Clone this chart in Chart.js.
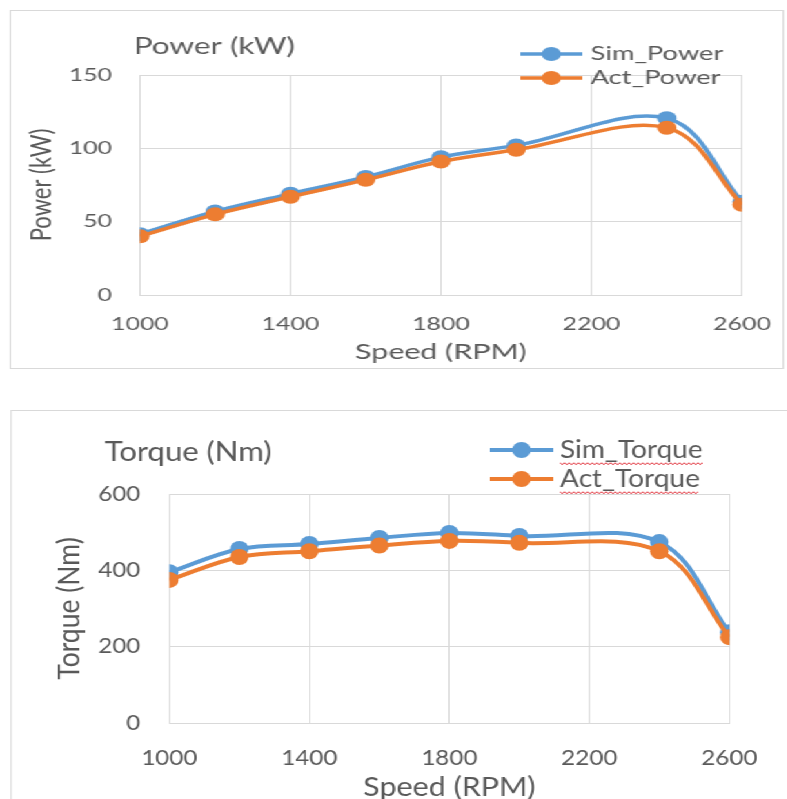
<!DOCTYPE html>
<html lang="en">
<head>
  <meta charset="UTF-8">
  <title>Power and Torque vs Speed</title>
  <script src="https://cdn.jsdelivr.net/npm/chart.js@4.4.1/dist/chart.umd.min.js"></script>
  <style>
    *{box-sizing:border-box}
    body{margin:0;background:#fff;width:787px;height:799px;overflow:hidden;position:relative}
    /* the source picture is stretched sideways, so each panel is drawn narrow and scaled in x */
    .panel{position:absolute;left:0;width:700px;transform-origin:0 0}
    .box{position:absolute;border:1px solid #d9d9d9;background:#fff}
    canvas{display:block}
  </style>
</head>
<body>
  <div class="panel" style="top:0;height:400px;transform:scaleX(1.38)">
    <div class="box" style="left:7px;top:10px;width:561px;height:359px">
      <canvas id="powerChart" width="559" height="357"></canvas>
    </div>
  </div>
  <div class="panel" style="top:0;height:820px;transform:scaleX(1.15)">
    <div class="box" style="left:8.7px;top:410px;width:680px;height:400px">
      <canvas id="torqueChart" width="678" height="392"></canvas>
    </div>
  </div>

<script>
/****************  DATA  ****************/
const speeds    = [1000, 1200, 1400, 1600, 1800, 2000, 2400, 2600];
const simPower  = [41.5, 57, 69, 80.5, 94, 102, 120.5, 63.5];
const actPower  = [40, 55, 67, 78.5, 91, 99, 114, 61.5];
const simTorque = [395, 456, 469, 485, 498, 490, 474, 238];
const actTorque = [375, 435, 450, 465, 477, 472, 450, 225];
const speedTicks  = [1000, 1400, 1800, 2200, 2600];
const powerTicks  = [0, 50, 100, 150];
const torqueTicks = [0, 200, 400, 600];

/****************  STYLE  ****************/
const BLUE='#5b9bd5', ORANGE='#ed7d31', GRID='#d9d9d9', TEXT='#595959';
const FONT='Lato, "Open Sans", sans-serif';

const pts=(ys)=>speeds.map((x,i)=>({x,y:ys[i]}));

/** title + Excel style legend (line through marker), drawn on top */
const decor={
  id:'decor',
  afterDraw(chart,args,o){
    const ctx=chart.ctx;
    ctx.save();
    ctx.fillStyle=TEXT;
    ctx.textBaseline='middle';
    ctx.textAlign='left';
    ctx.font=`${o.titleSize}px ${FONT}`;
    ctx.fillText(o.title,o.titleX,o.titleY);
    ctx.font=`${o.legSize}px ${FONT}`;
    o.items.forEach((it,i)=>{
      const y=o.legY+i*o.legGap;
      ctx.strokeStyle=it.color;ctx.lineWidth=o.lw;
      ctx.beginPath();ctx.moveTo(o.lineX0,y);ctx.lineTo(o.lineX1,y);ctx.stroke();
      ctx.fillStyle=it.color;
      ctx.beginPath();ctx.arc((o.lineX0+o.lineX1)/2,y,o.r,0,Math.PI*2);ctx.fill();
      ctx.fillStyle=TEXT;
      ctx.fillText(it.label,o.textX,y);
      if(o.wavy){
        // spell-check squiggle under the legend text
        const w=ctx.measureText(it.label).width;
        ctx.strokeStyle='#e0303a';ctx.lineWidth=1;
        ctx.beginPath();
        for(let x=0;x<=w;x+=2){
          const yy=y+o.legSize*0.55+((x/2)%2?1.2:-0.6);
          x===0?ctx.moveTo(o.textX+x,yy):ctx.lineTo(o.textX+x,yy);
        }
        ctx.stroke();
      }
    });
    ctx.restore();
  }
};

function makeChart(id,cfg){
  return new Chart(document.getElementById(id),{
    type:'line',
    data:{datasets:[
      {label:cfg.names[0],data:pts(cfg.sim),borderColor:BLUE,backgroundColor:BLUE,order:1},
      {label:cfg.names[1],data:pts(cfg.act),borderColor:ORANGE,backgroundColor:ORANGE,order:0}
    ]},
    options:{
      responsive:false,animation:false,
      layout:{padding:{top:cfg.padTop,right:cfg.padRight,left:0,bottom:0}},
      elements:{
        line:{borderWidth:cfg.decor.lw,tension:0.35,fill:false},
        point:{radius:cfg.decor.r,borderWidth:0,hoverRadius:cfg.decor.r}
      },
      plugins:{
        legend:{display:false},tooltip:{enabled:false},
        decor:cfg.decor
      },
      scales:{
        x:{
          type:'linear',min:1000,max:2600,
          afterBuildTicks:s=>{s.ticks=speedTicks.map(v=>({value:v}));},
          afterFit:s=>{s.height=cfg.xH;s.paddingLeft=0;s.paddingRight=0;},
          grid:{color:GRID,drawTicks:false},
          border:{color:GRID},
          ticks:{padding:cfg.xPad,color:TEXT,font:{family:FONT,size:cfg.tickSize},callback:v=>String(v)},
          title:{display:true,text:'Speed (RPM)',color:TEXT,font:{family:FONT,size:cfg.axSize},padding:{top:0,bottom:cfg.xTitlePad}}
        },
        y:{
          min:cfg.yTicks[0],max:cfg.yTicks[cfg.yTicks.length-1],
          afterBuildTicks:s=>{s.ticks=cfg.yTicks.map(v=>({value:v}));},
          afterFit:s=>{s.width=cfg.yW;s.paddingTop=0;s.paddingBottom=0;},
          grid:{color:GRID,drawTicks:false},
          border:{color:GRID},
          ticks:{padding:cfg.yPad,color:TEXT,font:{family:FONT,size:cfg.tickSize}},
          title:{display:true,text:cfg.yTitle,color:TEXT,font:{family:FONT,size:cfg.axSize},padding:{top:cfg.yTitlePad,bottom:0}}
        }
      }
    },
    plugins:[decor]
  });
}

makeChart('powerChart',{
  names:['Sim_Power','Act_Power'],sim:simPower,act:actPower,yTicks:powerTicks,yTitle:'Power (kW)',
  padTop:64,padRight:29.3,xH:73,xPad:18,xTitlePad:3,yW:93.4,yPad:20.2,yTitlePad:9.2,
  tickSize:18,axSize:22,
  decor:{title:'Power (kW)',titleX:89,titleY:36,titleSize:22.8,legSize:19.8,
    items:[{label:'Sim_Power',color:BLUE},{label:'Act_Power',color:ORANGE}],
    legY:43,legGap:24,lineX0:369,lineX1:414,textX:420,wavy:false,lw:3.5,r:7}
});

makeChart('torqueChart',{
  names:['Sim_Torque','Act_Torque'],sim:simTorque,act:actTorque,yTicks:torqueTicks,yTitle:'Torque (Nm)',
  padTop:83,padRight:53.8,xH:80,xPad:23,xTitlePad:0,yW:137.3,yPad:25.3,yTitlePad:34.5,
  tickSize:21,axSize:26.5,
  decor:{title:'Torque (Nm)',titleX:81,titleY:41,titleSize:27,legSize:24.4,
    items:[{label:'Sim_Torque',color:BLUE},{label:'Act_Torque',color:ORANGE}],
    legY:39,legGap:29,lineX0:416,lineX1:471,textX:477,wavy:true,lw:4,r:8}
});
</script>
</body>
</html>
